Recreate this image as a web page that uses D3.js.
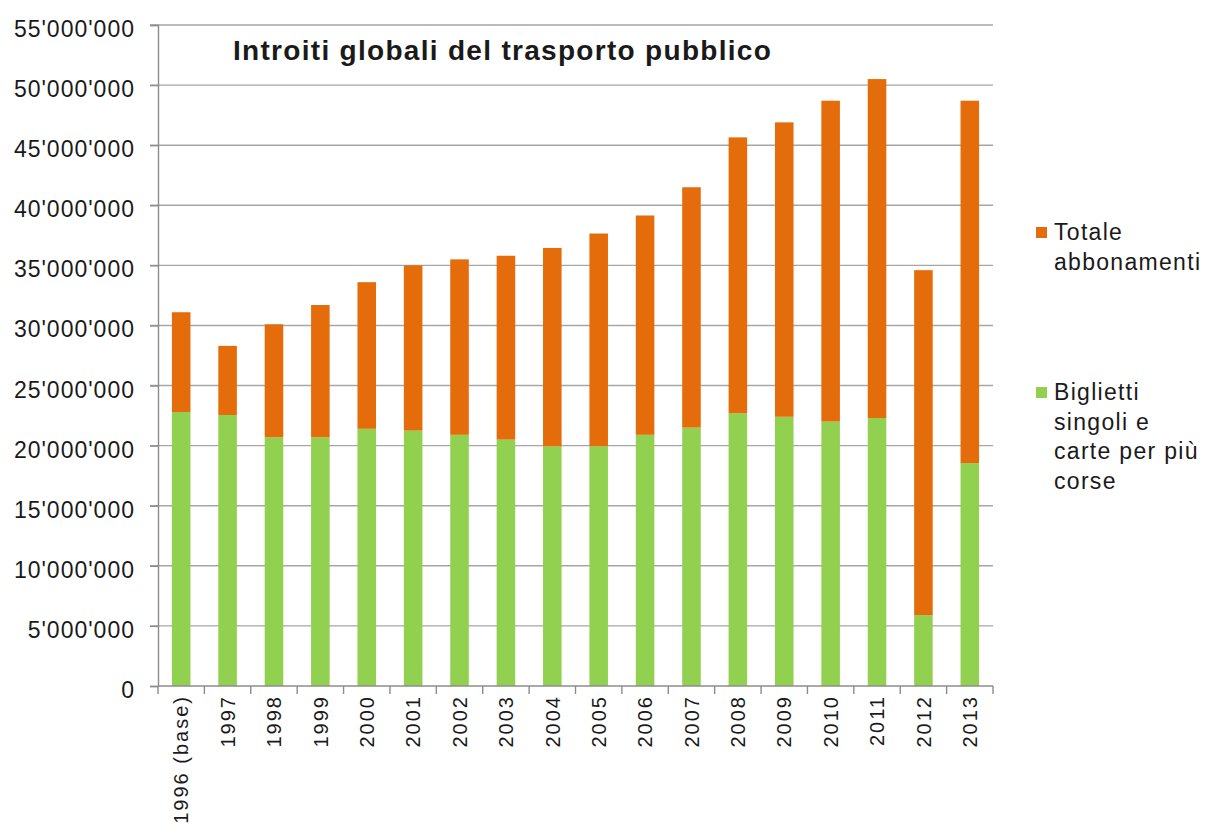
<!DOCTYPE html>
<html>
<head>
<meta charset="utf-8">
<script src="https://cdn.jsdelivr.net/npm/d3@7"></script>
<style>
  body { margin: 0; background: #fff; }
  text { font-family: Arial, "Liberation Sans", sans-serif; fill: #1a1a1a; }
</style>
</head>
<body>
<svg id="chart" width="1207" height="836"></svg>
<script>
// years on the x axis
const years = ['1996 (base)', '1997', '1998', '1999', '2000', '2001', '2002', '2003', '2004',
  '2005', '2006', '2007', '2008', '2009', '2010', '2011', '2012', '2013']
// single tickets and multi-ride cards (green, bottom)
const biglietti = [22.8, 22.55, 20.7, 20.7, 21.4, 21.25, 20.9, 20.5, 19.95,
  19.95, 20.9, 21.5, 22.7, 22.4, 22.0, 22.3, 5.9, 18.55].map(v => v * 1e6)
// total of both series
const totali = [31.1, 28.3, 30.1, 31.7, 33.6, 35.0, 35.5, 35.8, 36.45,
  37.65, 39.15, 41.5, 45.65, 46.9, 48.7, 50.5, 34.6, 48.7].map(v => v * 1e6)
// subscriptions (orange, top)
const abbonamenti = totali.map((t, i) => t - biglietti[i])
const yTicks = d3.range(0, 55000001, 5000000)

const svg = d3.select('#chart')
const plotLeft = 158
const plotRight = 993
const plotTop = 25
const plotBottom = 686

const x = d3.scaleBand().domain(years).range([plotLeft, plotRight]).paddingInner(0.6).paddingOuter(0.3)
const xb = d3.scaleBand().domain(years).range([plotLeft, plotRight])
const y = d3.scaleLinear().domain([0, 55000000]).range([plotBottom, plotTop])

const fmt = v => v === 0 ? '0' : d3.format(',')(v).replace(/,/g, "'")

// grid
svg.append('g')
  .selectAll('line')
  .data(yTicks.filter(d => d > 0))
  .join('line')
  .attr('x1', plotLeft - 8)
  .attr('x2', plotRight)
  .attr('y1', d => y(d))
  .attr('y2', d => y(d))
  .attr('stroke', '#a6a6a6')
  .attr('stroke-width', 1.4)

// stacked bars
const rows = years.map((yr, i) => ({ year: yr, biglietti: biglietti[i], abbonamenti: abbonamenti[i] }))
const stack = d3.stack().keys(['biglietti', 'abbonamenti'])(rows)
const colors = { biglietti: '#92d050', abbonamenti: '#e46c0a' }

svg.append('g')
  .selectAll('g')
  .data(stack)
  .join('g')
  .attr('fill', d => colors[d.key])
  .selectAll('rect')
  .data(d => d)
  .join('rect')
  .attr('x', d => x(d.data.year))
  .attr('width', x.bandwidth())
  .attr('y', d => y(d[1]))
  .attr('height', d => y(d[0]) - y(d[1]))

// y axis
const yAxis = svg.append('g').attr('transform', `translate(${plotLeft},0)`)
  .call(d3.axisLeft(y).tickValues(yTicks).tickSize(8).tickFormat(fmt))
yAxis.select('.domain').attr('stroke', '#8c8c8c').attr('stroke-width', 1.4)
yAxis.selectAll('.tick line').attr('stroke', '#8c8c8c').attr('stroke-width', 1.4)
yAxis.selectAll('.tick text')
  .attr('x', -23)
  .attr('dy', '0.5em')
  .style('font-size', '23px')
  .style('letter-spacing', '1px')
  .style('font-family', 'Arial, "Liberation Sans", sans-serif')
  .attr('fill', '#1a1a1a')

// x axis: ticks at category boundaries
const xAxis = svg.append('g')
xAxis.append('line')
  .attr('x1', plotLeft).attr('x2', plotRight)
  .attr('y1', plotBottom).attr('y2', plotBottom)
  .attr('stroke', '#8c8c8c').attr('stroke-width', 1.4)
xAxis.selectAll('line.tk')
  .data(years.concat(['end']))
  .join('line')
  .attr('class', 'tk')
  .attr('x1', (d, i) => plotLeft + xb.step() * i)
  .attr('x2', (d, i) => plotLeft + xb.step() * i)
  .attr('y1', plotBottom)
  .attr('y2', plotBottom + 8)
  .attr('stroke', '#8c8c8c').attr('stroke-width', 1.4)
xAxis.selectAll('text')
  .data(years)
  .join('text')
  .attr('transform', d => `translate(${xb(d) + xb.bandwidth() / 2},${plotBottom + 9}) rotate(-90)`)
  .attr('dy', '0.36em')
  .attr('text-anchor', 'end')
  .style('font-size', '20px')
  .style('letter-spacing', '2px')
  .text(d => d)

// title
svg.append('text')
  .attr('x', 233)
  .attr('y', 60)
  .style('font-size', '28px')
  .style('font-weight', 'bold')
  .style('letter-spacing', '1.3px')
  .attr('fill', '#000')
  .text('Introiti globali del trasporto pubblico')

// legend
const legend = [
  { color: colors.abbonamenti, y: 227, lines: ['Totale', 'abbonamenti'] },
  { color: colors.biglietti, y: 387, lines: ['Biglietti', 'singoli e', 'carte per più', 'corse'] }
]
const lg = svg.append('g')
  .selectAll('g')
  .data(legend)
  .join('g')
lg.append('rect')
  .attr('x', 1036)
  .attr('y', d => d.y)
  .attr('width', 11)
  .attr('height', 11)
  .attr('fill', d => d.color)
lg.append('text')
  .attr('x', 1054)
  .attr('y', d => d.y + 13)
  .style('font-size', '23px')
  .style('letter-spacing', '1.3px')
  .selectAll('tspan')
  .data(d => d.lines)
  .join('tspan')
  .attr('x', 1054)
  .attr('dy', (d, i) => i === 0 ? 0 : 29.5)
  .text(d => d)
</script>
</body>
</html>
